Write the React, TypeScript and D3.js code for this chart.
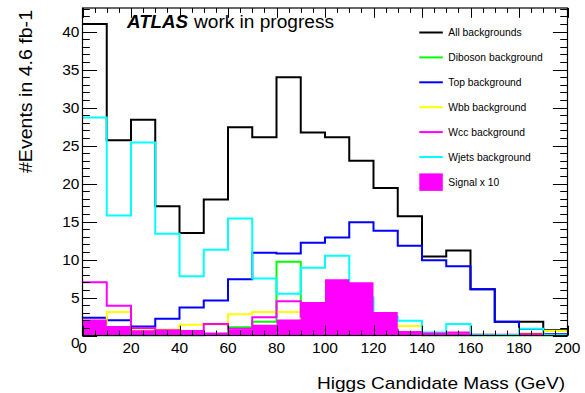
import React from "react";
import * as d3 from "d3";

const binLow = [0, 10, 20, 30, 40, 50, 60, 70, 80, 90, 100, 110, 120, 130, 140, 150, 160, 170, 180, 190];
const binWidth = 10;

const allBkg = [41.0, 25.7, 28.4, 17.0, 13.5, 17.9, 27.4, 26.1, 34.0, 26.7, 26.1, 23.0, 19.4, 15.7, 10.4, 11.2, 6.1, 1.8, 1.8, 0.7];
const diboson = [0, 0, 0, 0, 0, 0.1, 1.1, 1.8, 9.7, 2.0, 1.0, 0.5, 0.3, 0.1, 0, 0, 0, 0, 0, 0];
const top = [2.35, 2.0, 1.2, 2.2, 3.7, 4.6, 7.4, 10.9, 10.8, 12.2, 12.9, 14.9, 13.8, 11.8, 9.9, 9.1, 6.1, 1.8, 0.85, 0.2];
const wbb = [1.5, 3.1, 0.7, 0.8, 1.4, 1.45, 2.8, 3.1, 3.1, 2.0, 1.5, 1.5, 1.3, 1.25, 0.3, 0.3, 0.1, 0.05, 0.3, 0.6];
const wcc = [7.0, 3.9, 1.0, 0.7, 0.6, 1.5, 0.9, 2.4, 4.5, 2.5, 1.5, 1.2, 0.8, 0.4, 0.3, 0.4, 0.1, 0.1, 0.2, 0.1];
const wjets = [28.7, 15.8, 25.4, 13.4, 7.8, 11.3, 15.4, 7.5, 5.5, 8.9, 10.5, 5.0, 2.5, 1.95, 0.4, 1.5, 0.1, 0.05, 0.9, 0.1];
const signalX10 = [2.1, 1.25, 0.7, 0.6, 0.5, 0.4, 0.8, 1.4, 2.1, 4.4, 7.4, 7.0, 3.1, 0.6, 0.4, 0.3, 0.1, 0.05, 0.1, 0.05];

const xTicks = [0, 20, 40, 60, 80, 100, 120, 140, 160, 180, 200];
const yTicks = [0, 5, 10, 15, 20, 25, 30, 35, 40];

const legendLabels = ["All backgrounds", "Diboson background", "Top background", "Wbb background", "Wcc background", "Wjets background", "Signal x 10"];
const legendColors = ["#000000", "#00ff00", "#0000ff", "#ffff00", "#ff00ff", "#00ffff", "#ff00ff"];

const W = 585, H = 393;
const L = 82.5, R = 567.5, T = 8, B = 335.5;
const FONT = "'Liberation Sans', Arial, Helvetica, sans-serif";

export default function App() {
  const x = d3.scaleLinear().domain([0, 200]).range([L, R]);
  const y = d3.scaleLinear().domain([0, 43.1]).range([B, T]);

  const stepPts = (vals: number[]) => {
    const pts: [number, number][] = [];
    vals.forEach((v, i) => {
      pts.push([x(binLow[i]), y(v)]);
      pts.push([x(binLow[i] + binWidth), y(v)]);
    });
    return pts;
  };
  const line = d3.line<[number, number]>();
  const area = d3.area<[number, number]>().x((d) => d[0]).y0(y(0)).y1((d) => d[1]);

  const series = [
    { vals: allBkg, color: "#000000" },
    { vals: diboson, color: "#00ff00" },
    { vals: top, color: "#0000ff" },
    { vals: wbb, color: "#ffff00" },
    { vals: wcc, color: "#ff00ff" },
    { vals: wjets, color: "#00ffff" },
  ];

  const xMinor = d3.range(0, 201, 5);
  const yMinor = d3.range(0, 44, 1);
  const xMajLen = 9.8, xMinLen = 4.9, yMajLen = 14.6, yMinLen = 7.3;

  const legY0 = 32.5, legStep = 24.9;

  return (
    <svg width={W} height={H} style={{ display: "block", position: "absolute", left: 0, top: 0 }} fontFamily={FONT}>
      <rect x={0} y={0} width={W} height={H} fill="#fff" />
      <defs>
        <clipPath id="plotclip">
          <rect x={L} y={T} width={R - L} height={B - T + 1} />
        </clipPath>
      </defs>
      <g clipPath="url(#plotclip)">
        {series.map((s, i) => (
          <path key={i} d={line(stepPts(s.vals)) || ""} fill="none" stroke={s.color} strokeWidth={2} />
        ))}
        <path d={area(stepPts(signalX10)) || ""} fill="#ff00ff" stroke="none" />
      </g>

      {/* ticks */}
      <g stroke="#000" strokeWidth={1}>
        {xMinor.map((v) => {
          const maj = v % 20 === 0;
          const len = maj ? xMajLen : xMinLen;
          const xx = Math.round(x(v)) + 0.5;
          return (
            <g key={"xt" + v}>
              <line x1={xx} x2={xx} y1={B} y2={B - len} />
              <line x1={xx} x2={xx} y1={T} y2={T + len} />
            </g>
          );
        })}
        {yMinor.map((v) => {
          const maj = v % 5 === 0;
          const len = maj ? yMajLen : yMinLen;
          const yy = Math.round(y(v)) + 0.5;
          if (y(v) < T) return null;
          return (
            <g key={"yt" + v}>
              <line x1={L} x2={L + len} y1={yy} y2={yy} />
              <line x1={R} x2={R - len} y1={yy} y2={yy} />
            </g>
          );
        })}
      </g>
      <rect x={L} y={T} width={R - L} height={B - T} fill="none" stroke="#000" strokeWidth={1.2} />

      {/* tick labels */}
      <g fontSize={15.5} fill="#000">
        {xTicks.map((v) => (
          <text key={"xl" + v} x={x(v)} y={353} textAnchor="middle">{v}</text>
        ))}
        {yTicks.map((v) => (
          <text key={"yl" + v} x={79.5} y={v === 0 ? 347.5 : y(v) + 5.5} textAnchor="end">{v}</text>
        ))}
      </g>

      {/* axis titles */}
      <text x={565} y={389} fontSize={17} textAnchor="end" textLength={248} lengthAdjust="spacingAndGlyphs">Higgs Candidate Mass (GeV)</text>
      <text transform="translate(31.5,10) rotate(-90)" x={0} y={0} fontSize={18} textAnchor="end" textLength={163} lengthAdjust="spacingAndGlyphs">#Events in 4.6 fb-1</text>

      {/* ATLAS label */}
      <text x={127} y={27.5} fontSize={17.5} fontWeight="bold" fontStyle="italic" textLength={61} lengthAdjust="spacingAndGlyphs">ATLAS</text>
      <text x={194} y={27.5} fontSize={17.5} textLength={140} lengthAdjust="spacingAndGlyphs">work in progress</text>

      {/* legend */}
      {legendLabels.map((lab, i) => {
        const yy = legY0 + i * legStep;
        const isFill = i === legendLabels.length - 1;
        return (
          <g key={"lg" + i}>
            {isFill ? (
              <rect x={419.3} y={yy - 8.5} width={23.5} height={17.5} fill={legendColors[i]} />
            ) : (
              <line x1={419.3} x2={442.8} y1={yy} y2={yy} stroke={legendColors[i]} strokeWidth={2} />
            )}
            <text x={448.3} y={yy + 3.7} fontSize={10.3} fill="#000">{lab}</text>
          </g>
        );
      })}
    </svg>
  );
}
